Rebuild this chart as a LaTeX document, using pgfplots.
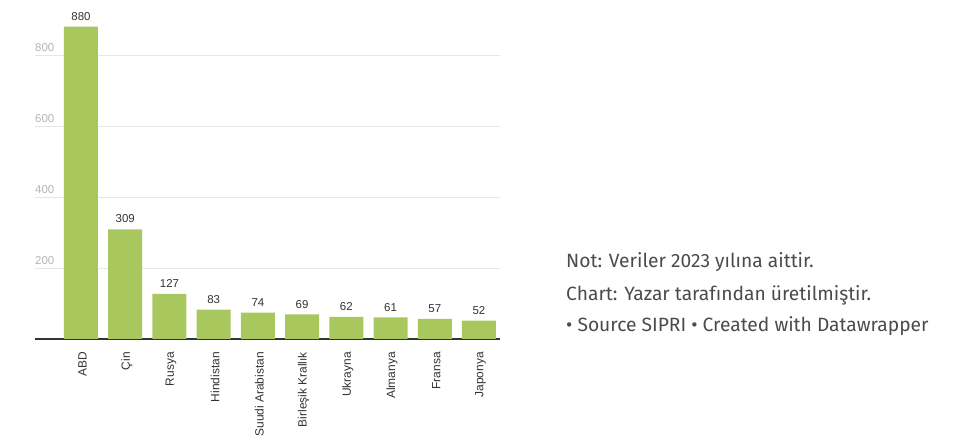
\documentclass[border=0pt]{standalone}
\usepackage{pgfplots}
\pgfplotsset{compat=1.18}
\usepackage{fontspec}
\setmainfont{Liberation Sans}
\newfontfamily\notefont{Fira Sans}
\definecolor{barcol}{RGB}{168,200,94}
\definecolor{gridcol}{RGB}{230,230,230}
\definecolor{ticklab}{RGB}{180,180,180}
\definecolor{darktext}{RGB}{51,51,51}
\definecolor{notecol}{RGB}{75,75,75}
\begin{document}
\begin{tikzpicture}[x=1bp,y=1bp]
\useasboundingbox (0,0) rectangle (967,436);
\begin{axis}[
  at={(35bp,97bp)}, anchor=south west,
  scale only axis, width=465bp, height=319.5bp,
  xmin=-1.04, xmax=9.475, ymin=0, ymax=900,
  clip=false,
  axis x line*=bottom, axis y line*=left,
  y axis line style={draw=none},
  x axis line style={draw=darktext, line width=1.2bp, -},
  major tick length=0pt,
  ytick={200,400,600,800},
  ymajorgrids, grid style={draw=gridcol, line width=0.8bp},
  /pgf/number format/assume math mode=true,
  yticklabel style={font=\fontsize{11.5}{13}\selectfont, text=ticklab, anchor=south west, inner sep=0pt, xshift=0bp, yshift=3.5bp},
  xtick={0,...,9},
  xticklabels={ABD,Çin,Rusya,Hindistan,Suudi Arabistan,Birleşik Krallık,Ukrayna,Almanya,Fransa,Japonya},
  xticklabel style={font=\fontsize{12}{14}\selectfont, text=darktext, rotate=90, anchor=east, inner sep=0pt, xshift=-13bp, yshift=-1.5bp},
  nodes near coords,
  every node near coord/.append style={font=\fontsize{11.5}{13}\selectfont, text=darktext, anchor=south, inner sep=0pt, yshift=6bp},
]
\addplot[ybar, bar width=34bp, fill=barcol, draw=none] coordinates {
 (0,880) (1,309) (2,127) (3,83) (4,74) (5,69) (6,62) (7,61) (8,57) (9,52)
};
\end{axis}
\begin{scope}[every node/.style={anchor=base west, inner sep=0pt, text=notecol, font=\notefont\fontsize{19.3}{22}\selectfont}]
\node at (566,168) {Not: Veriler 2023 yılına aittir.};
\node at (566,135) {Chart: Yazar tarafından üretilmiştir.};
\node at (566,104) {• Source SIPRI • Created with Datawrapper};
\end{scope}
\end{tikzpicture}
\end{document}
